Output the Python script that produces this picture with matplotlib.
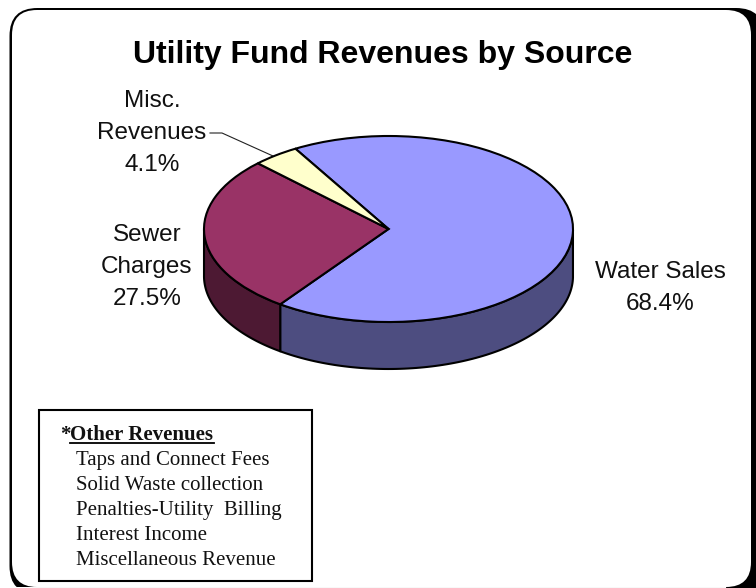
import numpy as np
import matplotlib
matplotlib.use('Agg')
import matplotlib.pyplot as plt
from matplotlib.patches import FancyBboxPatch, Polygon, Rectangle

# Slice values, clockwise from the start angle
categories = ['Water Sales', 'Sewer Charges', 'Misc. Revenues']
shares = [68.4, 27.5, 4.1]
top_colors = ['#9999FF', '#993366', '#FFFFCC']
wall_colors = ['#4D4D80', '#4D1933', '#808066']

other_title = 'Other Revenues'
other_items = ['Taps and Connect Fees', 'Solid Waste collection',
               'Penalties-Utility  Billing', 'Interest Income',
               'Miscellaneous Revenue']

W, H = 756, 588
start_angle = 120.3
cx, cy, rx, ry, depth = 388.5, 229, 184.5, 93, 47

fig = plt.figure(figsize=(W / 100, H / 100), dpi=100)

# Backdrop axes in pixel units, y pointing down
bg = fig.add_axes([0, 0, 1, 1], zorder=0)
bg.set_xlim(0, W)
bg.set_ylim(H, 0)
bg.axis('off')

def rounded(x0, y0, x1, y1, r, color):
    bg.add_patch(FancyBboxPatch((x0 + r, y0 + r), x1 - x0 - 2 * r, y1 - y0 - 2 * r,
                                boxstyle=f'round,pad={r},rounding_size={r}',
                                fc=color, ec='none'))

# Rounded border, heavier on the right and bottom
rounded(9.5, 8, 764, 594, 28, 'black')
rounded(12, 10, 751, 587, 25, 'white')
bg.add_patch(Rectangle((0, 587), 726, 1, fc='white', ec='none'))
bg.plot([32, 726], [587.5, 587.5], color='#C8C8C8', lw=0.9)

bg.text(382.5, 63, 'Utility Fund Revenues by Source', family='Liberation Sans',
        fontweight='bold', fontsize=23, ha='center', va='baseline', color='black')

label_font = dict(family='Liberation Sans', fontsize=17.5, ha='center', va='baseline',
                  color='#111111')
bg.text(152, 107, 'Misc.', **label_font)
bg.text(152, 139, 'Revenues', **label_font)
bg.text(152, 171, f'{shares[2]}%', **label_font)
bg.text(147, 241, 'Sewer', **label_font)
bg.text(147, 273, 'Charges', **label_font)
bg.text(147, 305, f'{shares[1]}%', **label_font)
bg.text(660, 278, 'Water Sales', **label_font)
bg.text(660, 310, f'{shares[0]}%', **label_font)

# Leader line for the small slice
bg.plot([210, 222, 273], [133, 133, 156], color='#222222', lw=0.8)

# Box listing what falls under other revenues
bg.add_patch(Rectangle((38.5, 410), 273.5, 171, fc='white', ec='black', lw=1.5))
serif = dict(family='Liberation Serif', fontsize=15, va='baseline', color='#111111')
bg.text(60, 440, '*', fontweight='bold', **serif)
bg.text(70, 440, other_title, fontweight='bold', **serif)
bg.plot([70, 214], [443, 443], color='black', lw=1.3)
for i, item in enumerate(other_items):
    bg.text(76, 465 + 25 * i, item, **serif)

# Pie axes scaled so one data unit is the radius along each direction
ax = fig.add_axes([0, 0, 1, 1], zorder=1)
ax.patch.set_alpha(0)
ax.axis('off')
wedges, _ = ax.pie(shares, colors=top_colors, startangle=start_angle, counterclock=False,
                   wedgeprops=dict(edgecolor='black', linewidth=1.5, zorder=3))
ax.set_aspect('auto')
ax.set_xlim(-cx / rx, (W - cx) / rx)
ax.set_ylim((cy - H) / ry, cy / ry)

# Side wall: the front half of the rim pushed down by the pie depth
drop = depth / ry
angle = start_angle
for share, color in zip(shares, wall_colors):
    end = angle - share * 3.6
    th = np.radians(np.linspace(end, angle, 200))
    th = th[np.sin(th) <= 0]
    if len(th):
        upper = np.column_stack([np.cos(th), np.sin(th)])
        lower = upper[::-1] - [0, drop]
        ax.add_patch(Polygon(np.vstack([upper, lower]), closed=True, fc=color, ec='black',
                             lw=1.5, zorder=2, joinstyle='round'))
    angle = end

fig.savefig('out.png', dpi=100)
